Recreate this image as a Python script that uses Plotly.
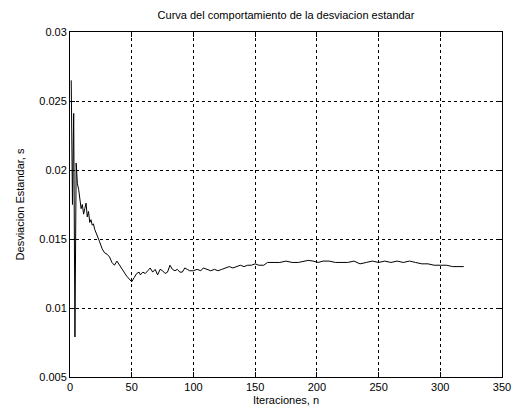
import plotly.graph_objects as go

# Iteration numbers and standard deviation values
iteraciones = [1, 2, 3, 4, 5, 6, 7, 8, 9, 10, 11, 12, 13, 14, 15, 16, 17, 18, 19, 20,
               22, 24, 26, 28, 30, 32, 34, 36, 38, 40, 42, 44, 46, 48, 50, 52, 54, 56,
               57, 59, 61, 63, 65, 67, 69, 71, 73, 75, 77, 79, 81, 83, 85, 87, 89, 91,
               93, 95, 97, 100, 103, 106, 108, 111, 114, 117, 120, 123, 126, 129, 132,
               135, 138, 141, 144, 147, 150, 153, 157, 160, 165, 170, 175, 180, 185, 190,
               193, 197, 201, 205, 210, 215, 220, 225, 230, 235, 240, 245, 250, 255, 260,
               265, 270, 275, 280, 285, 290, 295, 300, 305, 310, 315, 319]
desviacion = [0.0265, 0.0175, 0.0241, 0.0079, 0.0205, 0.0190, 0.0186, 0.0178, 0.0172,
              0.0175, 0.0168, 0.0172, 0.0176, 0.0166, 0.0170, 0.0162, 0.0164, 0.0160,
              0.0161, 0.0157, 0.0153, 0.0148, 0.0143, 0.0140, 0.0139, 0.0137, 0.0133,
              0.0131, 0.0134, 0.0131, 0.0128, 0.0126, 0.0123, 0.0121, 0.0119, 0.0122,
              0.0125, 0.0126, 0.0124, 0.0126, 0.0125, 0.0127, 0.0129, 0.0126, 0.0128,
              0.0124, 0.0128, 0.0127, 0.0125, 0.0126, 0.0131, 0.0128, 0.0127, 0.0128,
              0.0126, 0.0126, 0.0129, 0.0128, 0.0127, 0.0127, 0.0128, 0.0127, 0.0129,
              0.0128, 0.0127, 0.0128, 0.0127, 0.0128, 0.0129, 0.0130, 0.0129, 0.0130,
              0.0131, 0.0130, 0.0131, 0.0131, 0.0132, 0.0131, 0.0131, 0.0133, 0.0133,
              0.0133, 0.0134, 0.0133, 0.0133, 0.0134, 0.01345, 0.0134, 0.0133, 0.0134,
              0.0134, 0.0133, 0.0133, 0.0133, 0.0134, 0.0132, 0.0133, 0.0134, 0.0133,
              0.0134, 0.0133, 0.0134, 0.0133, 0.0134, 0.0133, 0.0132, 0.0132, 0.0131,
              0.0131, 0.0131, 0.0130, 0.0130, 0.0130]

x_ticks = [0, 50, 100, 150, 200, 250, 300, 350]
y_ticks = [0.005, 0.01, 0.015, 0.02, 0.025, 0.03]
y_tick_labels = ["0.005", "0.01", "0.015", "0.02", "0.025", "0.03"]

FONT = "Liberation Sans, Arial, sans-serif"

fig = go.Figure()
fig.add_trace(go.Scatter(x=iteraciones, y=desviacion, mode="lines",
                         line=dict(color="black", width=1), showlegend=False,
                         hoverinfo="skip"))

axis_common = dict(showline=True, linecolor="black", linewidth=1, mirror="ticks",
                   ticks="inside", ticklen=5, tickcolor="black", tickwidth=1,
                   showgrid=True, gridcolor="black", gridwidth=1, griddash="3px,3px",
                   zeroline=False, tickfont=dict(family=FONT, size=11, color="black"))

fig.update_xaxes(range=[0, 350], tickvals=x_ticks,
                 title=dict(text="Iteraciones, n", font=dict(family=FONT, size=11, color="black"),
                            standoff=4),
                 **axis_common)
fig.update_yaxes(range=[0.005, 0.03], tickvals=y_ticks, ticktext=y_tick_labels,
                 title=dict(text="Desviacion Estandar, s", font=dict(family=FONT, size=11, color="black"),
                            standoff=12),
                 **axis_common)

fig.update_layout(
    width=522, height=418,
    margin=dict(l=70, r=11, t=32, b=41),
    paper_bgcolor="white", plot_bgcolor="white",
    title=dict(text="Curva del comportamiento de la desviacion estandar",
               x=0.5, xref="paper", y=1 - 15 / 418, yanchor="middle",
               font=dict(family=FONT, size=11, color="black")),
    font=dict(family=FONT, size=11, color="black"),
)

fig.write_html("out.html")
